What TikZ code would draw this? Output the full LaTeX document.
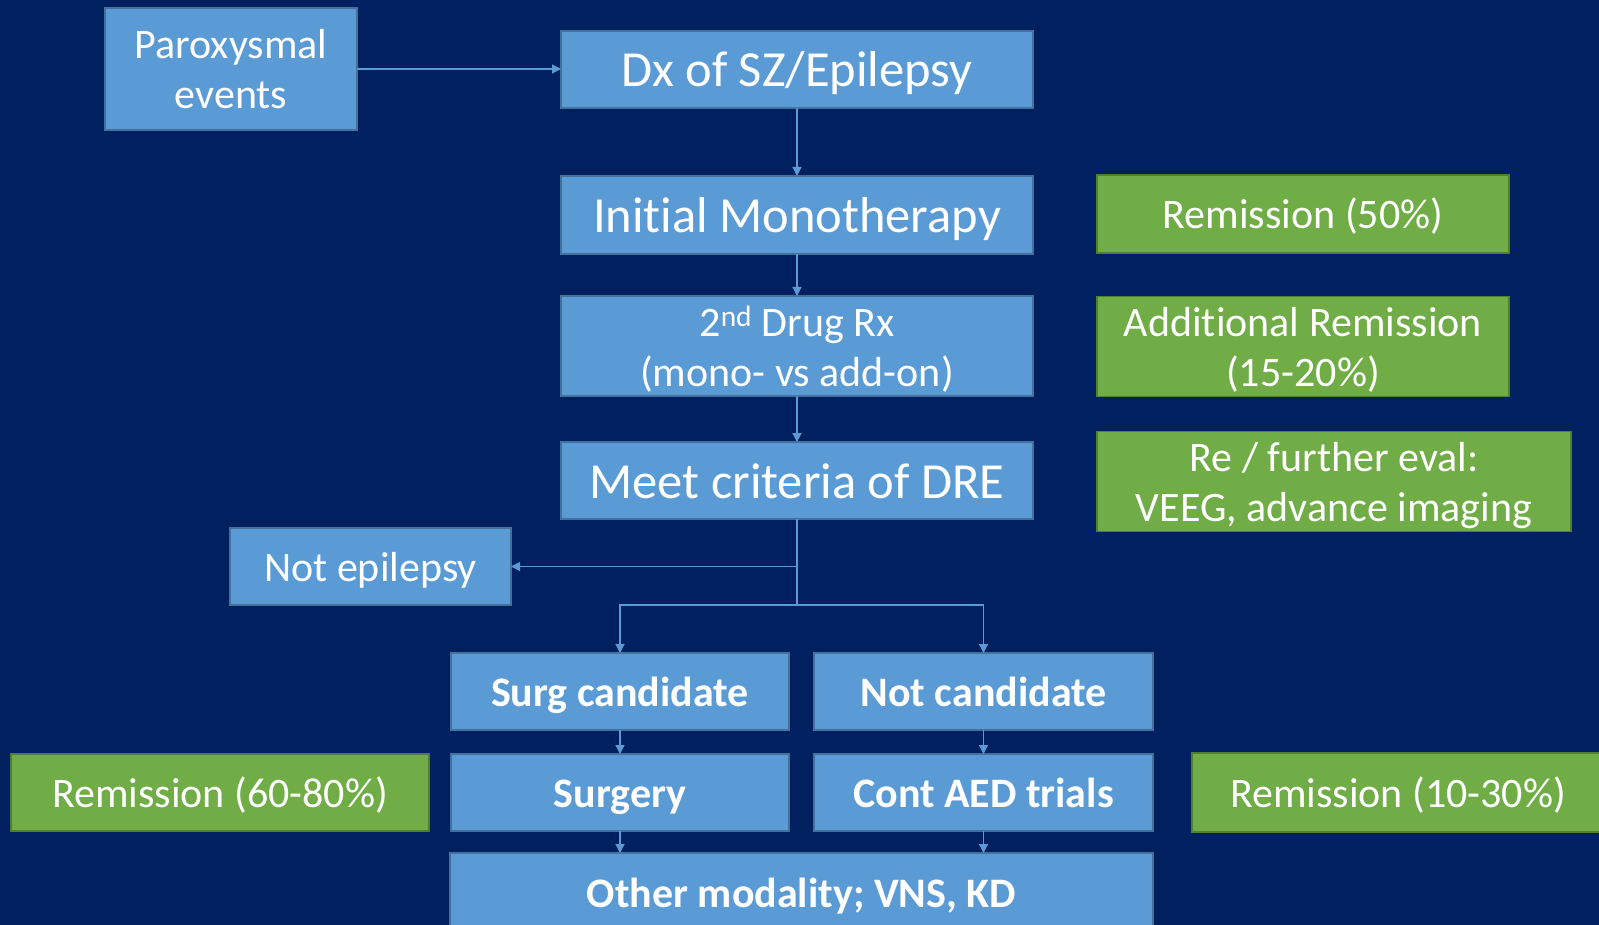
\documentclass[tikz,border=0pt]{standalone}
\usepackage{fontspec}
\setmainfont[Ligatures=NoCommon]{Carlito}
\usetikzlibrary{arrows.meta,calc}
\definecolor{bg}{HTML}{002060}
\definecolor{bfill}{HTML}{5B9BD5}
\definecolor{bline}{HTML}{41719C}
\definecolor{gfill}{HTML}{70AD47}
\definecolor{gline}{HTML}{507E32}
\newcommand{\twoln}[2]{\rule{0pt}{40pt}#1\\#2\rule[-10pt]{0pt}{10pt}}
\tikzset{
  bluebox/.style={draw=bline, fill=bfill, line width=1.8pt, text=white, align=center, inner sep=0pt, outer sep=0pt},
  greenbox/.style={draw=gline, fill=gfill, line width=1.8pt, text=white, align=center, inner sep=0pt, outer sep=0pt},
  bigtxt/.style={font=\fontsize{50.5}{61}\selectfont, text height=35pt, text depth=0pt},
  midtxt/.style={font=\fontsize{42}{50}\selectfont, text height=29.5pt, text depth=0pt},
  boldtxt/.style={font=\fontsize{42}{50}\selectfont\bfseries, text height=29.5pt, text depth=0pt},
  twotxt/.style={font=\fontsize{42}{50}\selectfont},
  conn/.style={draw=bfill, line width=1.2pt, -{Triangle[length=9pt,width=9pt]}},
  plainconn/.style={draw=bfill, line width=1.2pt},
}
\begin{document}
\begin{tikzpicture}[x=1pt,y=-1pt]
\fill[bg] (0,0) rectangle (1599,925);
\useasboundingbox (0,0) rectangle (1599,925);

\node[bluebox,twotxt,minimum width=252pt,minimum height=122pt] (par) at (231,69) {\twoln{Paroxysmal}{events}};
\node[bluebox,bigtxt,minimum width=472pt,minimum height=77pt] (dx) at (797,69.5) {Dx of SZ/Epilepsy};
\node[bluebox,bigtxt,minimum width=472pt,minimum height=78pt] (mono) at (797,215) {Initial Monotherapy};
\node[bluebox,twotxt,minimum width=472pt,minimum height=96pt] (drug) at (797,346) {\twoln{2\textsuperscript{nd} Drug Rx}{(mono- vs add-on)}};
\node[bluebox,bigtxt,minimum width=472pt,minimum height=77pt] (dre) at (797,480.5) {Meet criteria of DRE};
\node[bluebox,midtxt,minimum width=281pt,minimum height=77pt] (notep) at (370.5,566.5) {Not epilepsy};
\node[bluebox,boldtxt,minimum width=338pt,minimum height=77pt] (surgc) at (620,691.5) {Surg candidate};
\node[bluebox,boldtxt,minimum width=339pt,minimum height=77pt] (notc) at (983.5,691.5) {Not candidate};
\node[bluebox,boldtxt,minimum width=338pt,minimum height=77pt] (surg) at (620,792.5) {Surgery};
\node[bluebox,boldtxt,minimum width=339pt,minimum height=77pt] (aed) at (983.5,792.5) {Cont AED trials};
\node[bluebox,boldtxt,minimum width=703pt,minimum height=80pt] (other) at (801.5,893) {Other modality; VNS, KD};

\node[greenbox,midtxt,minimum width=412pt,minimum height=78pt] (rem50) at (1303,214) {Remission (50\%)};
\node[greenbox,twotxt,minimum width=412pt,minimum height=97pt] (addrem) at (1303,346.5) {\twoln{Additional Remission}{(15-20\%)}};
\node[greenbox,twotxt,minimum width=474pt,minimum height=97pt] (reeval) at (1334,481.5) {\twoln{Re / further eval:}{VEEG, advance imaging}};
\node[greenbox,midtxt,minimum width=418pt,minimum height=77pt] (rem60) at (220,792.5) {Remission (60-80\%)};
\node[greenbox,midtxt,minimum width=412pt,minimum height=79pt] (rem10) at (1398,792.5) {Remission (10-30\%)};

\coordinate (j1) at (dre.south |- notep.east);
\coordinate (j2) at ($(dre.south)+(0,86)$);

\draw[conn] (par.east) -- (par.east -| dx.west);
\draw[conn] (dx.south) -- (mono.north);
\draw[conn] (mono.south) -- (drug.north);
\draw[conn] (drug.south) -- (dre.north);
\draw[plainconn] (dre.south) -- (j2);
\draw[conn] (j1) -- (notep.east);
\draw[conn] (j2) -| (surgc.north);
\draw[conn] (j2) -| (notc.north);
\draw[conn] (surgc.south) -- (surg.north);
\draw[conn] (notc.south) -- (aed.north);
\draw[conn] (surg.south) -- (surg.south |- other.north);
\draw[conn] (aed.south) -- (aed.south |- other.north);
\end{tikzpicture}
\end{document}
